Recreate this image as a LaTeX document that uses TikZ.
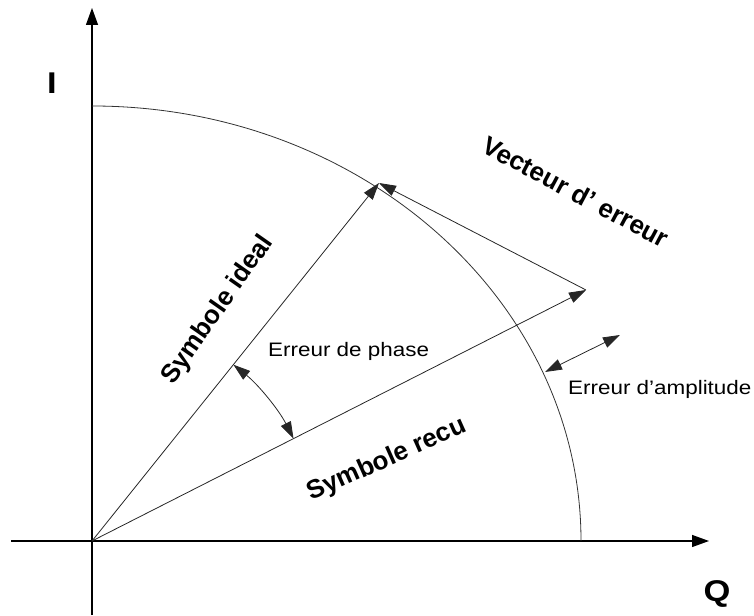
\documentclass[tikz,border=0pt]{standalone}
\usepackage{fontspec}
\setmainfont{Liberation Sans}
\usepackage{graphicx}
\usetikzlibrary{arrows.meta}
\begin{document}
\begin{tikzpicture}[x=1pt,y=1pt,
  axis/.style={line width=1.3pt, -{Triangle[length=17pt,width=12pt]}},
  vec/.style={line width=0.8pt, draw=black!85, -{Triangle[length=17pt,width=11pt]}},
  dbl/.style={line width=0.8pt, draw=black!85, {Triangle[length=17pt,width=11pt]}-{Triangle[length=17pt,width=11pt]}},
  circ/.style={line width=0.8pt, draw=black!80},
  blab/.style={font=\fontsize{26}{30}\selectfont\bfseries, inner sep=0pt},
  axlab/.style={font=\fontsize{30}{36}\selectfont\bfseries, inner sep=0pt},
  rlab/.style={font=\fontsize{19.5}{24}\selectfont, inner sep=0pt}
]
\useasboundingbox (0,0) rectangle (754,615);
\coordinate (O) at (92,74);
\coordinate (XL) at (11,74);
\coordinate (XR) at (709,74);
\coordinate (YB) at (92,0);
\coordinate (YT) at (92,607);
\coordinate (I) at (379,432);
\coordinate (R) at (586,325);
\coordinate (Top) at (92,509);
\coordinate (P1) at (233.4,250.3);
\coordinate (A1) at (545,243);
\coordinate (A2) at (620,280);

\draw[axis] (XL) -- (XR);
\draw[axis] (YB) -- (YT);
\draw[circ] (Top) arc[start angle=90, end angle=0, x radius=489, y radius=435];
\draw[vec] (O) -- (I);
\draw[vec] (O) -- (R);
\draw[vec] (R) -- (I);
\draw[dbl] (P1) arc[start angle=51.28, end angle=26.93, radius=226];
\draw[dbl] (A1) -- (A2);

\node[axlab] (Ilab) at (52,532) {\scalebox{1.15}[1]{I}};
\node[axlab] (Qlab) at (717,21) {\scalebox{1.15}[1]{Q}};
\node[blab, rotate=55] (ideal) at (218,305) {Symbole ideal};
\node[blab, rotate=24] (recu) at (387,155) {Symbole recu};
\node[blab, rotate=-28] (err) at (576,423) {Vecteur d’ erreur};
\node[rlab, anchor=base west] (phase) at (268,258) {\scalebox{1.15}[1]{Erreur de phase}};
\node[rlab, anchor=base west] (ampl) at (568,220) {\scalebox{1.15}[1]{Erreur d’amplitude}};
\end{tikzpicture}
\end{document}
